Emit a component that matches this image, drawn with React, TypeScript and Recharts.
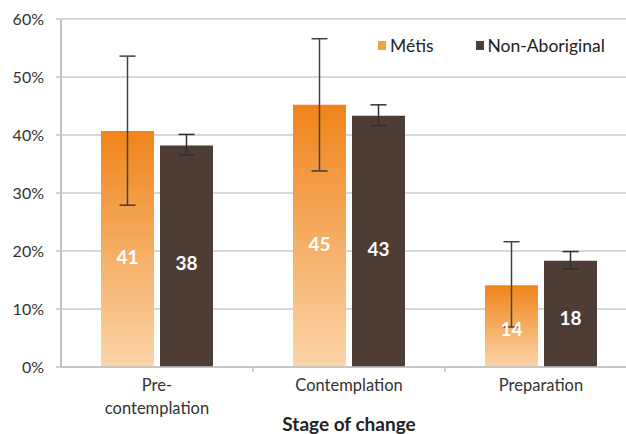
import React from 'react';
import { BarChart, Bar, XAxis, YAxis, CartesianGrid, ErrorBar, LabelList, Label } from 'recharts';

const stages = ['Pre-\ncontemplation', 'Contemplation', 'Preparation'];
const metisValues = [40.7, 45.2, 14.1];
const metisLower = [27.9, 33.8, 6.9];
const metisUpper = [53.6, 56.6, 21.6];
const nonAboriginalValues = [38.2, 43.3, 18.3];
const nonAboriginalLower = [36.6, 41.6, 16.9];
const nonAboriginalUpper = [40.1, 45.2, 19.9];
const yTicks = [0, 10, 20, 30, 40, 50, 60];

const data = stages.map((stage, i) => ({
  stage,
  metis: metisValues[i],
  metisErr: [metisValues[i] - metisLower[i], metisUpper[i] - metisValues[i]],
  nonAboriginal: nonAboriginalValues[i],
  nonAboriginalErr: [
    nonAboriginalValues[i] - nonAboriginalLower[i],
    nonAboriginalUpper[i] - nonAboriginalValues[i],
  ],
}));

const FONT = 'Lato, "Open Sans", sans-serif';
const AXIS_COLOR = '#bcc2c7';

const StageTick = (props: any) => {
  const { x, y, payload, index } = props;
  const lines = String(payload.value).split('\n');
  const half = payload && payload.offset ? payload.offset : 0;
  return (
    <g>
      {index < stages.length - 1 && half ? (
        <line x1={x + half} x2={x + half} y1={y} y2={y + 5} stroke={AXIS_COLOR} strokeWidth={1.5} />
      ) : null}
      <text x={x} y={y} textAnchor="middle" fill="#333" fontSize={16.5} fontFamily={FONT}>
        {lines.map((l, i) => (
          <tspan key={i} x={x} dy={i === 0 ? 24 : 23}>
            {l}
          </tspan>
        ))}
      </text>
    </g>
  );
};

const BarValueLabel = (props: any) => {
  const { x, y, width, height, value } = props;
  return (
    <text
      x={x + width / 2}
      y={y + height * 0.53}
      textAnchor="middle"
      dominantBaseline="central"
      fill="#fff"
      fontSize={19}
      fontWeight={700}
      fontFamily={FONT}
    >
      {Math.round(value)}
    </text>
  );
};

export default function App() {
  return (
    <div
      style={{
        position: 'absolute',
        left: 0,
        top: 0,
        width: 626,
        height: 434,
        overflow: 'hidden',
        background: '#fff',
        fontFamily: FONT,
      }}
    >
      <BarChart
        width={660}
        height={434}
        data={data}
        margin={{ top: 19, right: 23, bottom: 0, left: 0 }}
        barCategoryGap={40}
        barGap={6}
      >
        <defs>
          <linearGradient id="metisGrad" x1="0" y1="0" x2="0" y2="1">
            <stop offset="0%" stopColor="#f0841a" />
            <stop offset="100%" stopColor="#fbd5aa" />
          </linearGradient>
        </defs>
        <CartesianGrid vertical={false} stroke="#c8cbce" strokeWidth={1.5} />
        <XAxis
          dataKey="stage"
          height={67}
          tickLine={false}
          tickSize={0}
          tickMargin={0}
          axisLine={{ stroke: AXIS_COLOR, strokeWidth: 1.5 }}
          tick={<StageTick />}
          interval={0}
        >
          <Label
            value="Stage of change"
            position="insideBottom"
            offset={3}
            style={{ fontWeight: 700, fontSize: 19, fill: '#222', fontFamily: FONT }}
          />
        </XAxis>
        <YAxis
          width={61}
          domain={[0, 60]}
          ticks={yTicks}
          interval={0}
          tickFormatter={(v: number) => `${v}%`}
          tickSize={5}
          tickMargin={12}
          axisLine={{ stroke: AXIS_COLOR, strokeWidth: 2 }}
          tickLine={{ stroke: AXIS_COLOR, strokeWidth: 1.5 }}
          tick={{ fill: '#333', fontSize: 16, fontFamily: FONT }}
        />
        <Bar dataKey="metis" name="Métis" fill="url(#metisGrad)" isAnimationActive={false}>
          <LabelList dataKey="metis" content={<BarValueLabel />} />
          <ErrorBar dataKey="metisErr" width={8} stroke="#404040" strokeWidth={1.5} />
        </Bar>
        <Bar dataKey="nonAboriginal" name="Non-Aboriginal" fill="#4e3d34" isAnimationActive={false}>
          <LabelList dataKey="nonAboriginal" content={<BarValueLabel />} />
          <ErrorBar dataKey="nonAboriginalErr" width={8} stroke="#303030" strokeWidth={1.5} />
        </Bar>
      </BarChart>
      <div
        style={{
          position: 'absolute',
          top: 35,
          left: 378,
          display: 'flex',
          alignItems: 'center',
          fontSize: 17.5,
          color: '#222',
          fontFamily: FONT,
          whiteSpace: 'nowrap',
        }}
      >
        <span style={{ display: 'inline-block', width: 8, height: 9, background: '#f5a045', marginRight: 4 }} />
        <span style={{ marginRight: 42 }}>Métis</span>
        <span style={{ display: 'inline-block', width: 8, height: 9, background: '#4e3d34', marginRight: 4 }} />
        <span>Non-Aboriginal</span>
      </div>
    </div>
  );
}
